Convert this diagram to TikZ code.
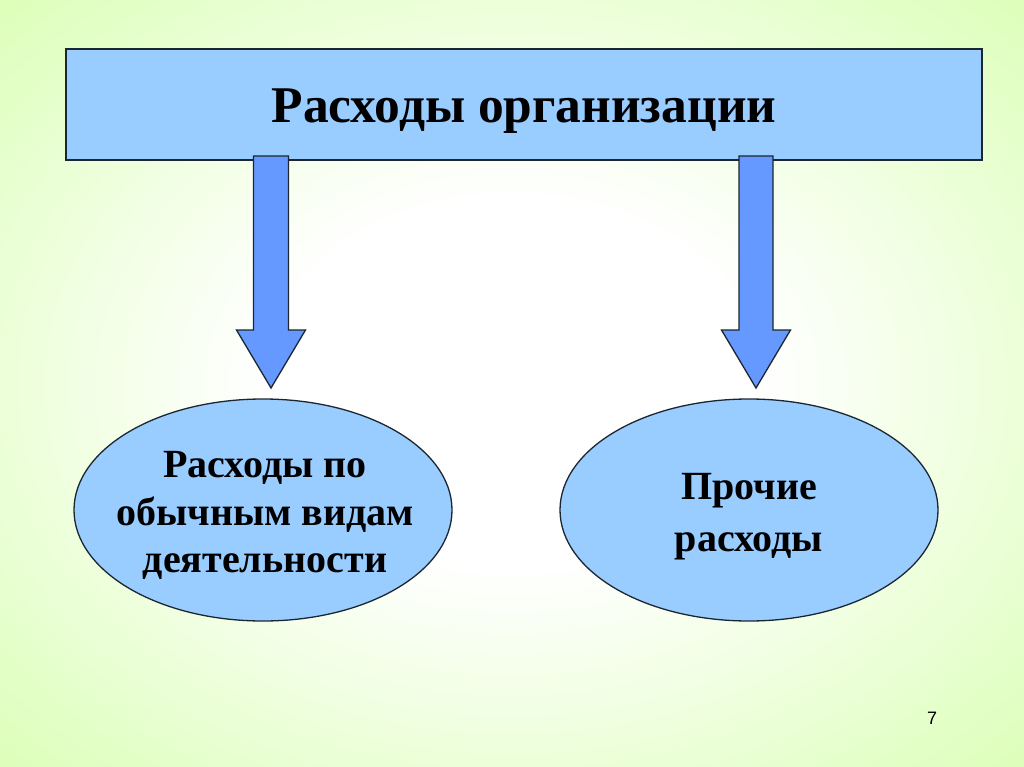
\documentclass[tikz,border=0pt]{standalone}
\usepackage{fontspec}
\setmainfont{Liberation Serif}
\newfontfamily\numfont{Liberation Sans}
\usetikzlibrary{shapes.geometric}

\definecolor{bggreen}{HTML}{CCFF99}
\definecolor{boxblue}{HTML}{99CCFF}
\definecolor{arrowblue}{HTML}{6699FF}
\definecolor{edgedark}{HTML}{1C2630}

\pgfdeclareradialshading{slideglow}{\pgfpoint{0bp}{0bp}}{%
  color(0bp)=(white); color(12bp)=(white);
  color(46bp)=(bggreen); color(100bp)=(bggreen)}

\tikzset{
  headbox/.style={draw=edgedark, line width=1.3pt, fill=boxblue,
    minimum width=916, minimum height=111, inner sep=0pt,
    text height=37pt, text depth=0pt,
    font=\bfseries\fontsize{51.5}{60}\selectfont},
  kindoval/.style={ellipse, draw=edgedark, line width=1.3pt, fill=boxblue,
    minimum width=378, minimum height=222, inner sep=0pt},
  kindtext/.style={inner sep=0pt, align=center,
    font=\bfseries\fontsize{40}{47.5}\selectfont},
  blockarrow/.style={draw=edgedark, line width=1.3pt, fill=arrowblue,
    line join=miter}
}

\begin{document}
\begin{tikzpicture}[x=1pt,y=-1pt]

	% slide background
	\useasboundingbox (0,0) rectangle (1024,767);
	\shade[shading=slideglow] (0,0) rectangle (1024,767);

	% header
	\node[headbox] (org) at (524,104.5) {Расходы организации};

	% kinds of expenses
	\node[kindoval] (usual) at (263,510) {};
	\node[kindoval] (other) at (749,510) {};
	\node[kindtext] (usualtext) at (265,515.5) {Расходы по\\обычным видам\\деятельности};
	\node[kindtext, font=\bfseries\fontsize{40}{52}\selectfont] (othertext) at (749,517)
		{Прочие\\расходы};

	% block arrows
	\coordinate (tipL) at (271,388);
	\coordinate (tipR) at (756,388);
	\draw[blockarrow] (tipL) ++(-17.5,-232) -- ++(35,0) -- ++(0,174) -- ++(17,0)
		-- (tipL) -- ++(-34.5,-58) -- ++(17,0) -- cycle;
	\draw[blockarrow] (tipR) ++(-17,-232) -- ++(34,0) -- ++(0,174) -- ++(17.5,0)
		-- (tipR) -- ++(-34.5,-58) -- ++(17.5,0) -- cycle;

	% slide number
	\node[font=\numfont\fontsize{18}{20}\selectfont] (pageno) at (932,718) {7};

\end{tikzpicture}
\end{document}
